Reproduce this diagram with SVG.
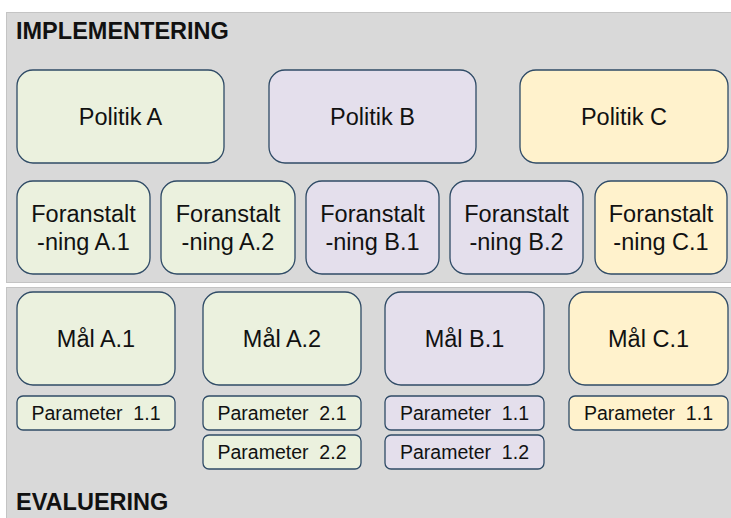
<svg xmlns="http://www.w3.org/2000/svg" width="731" height="518" viewBox="0 0 731 518">
<style>
.panel{fill:#d9d9d9;stroke:#c4c4c4;stroke-width:1}
.box{stroke:#2f4b66;stroke-width:1.3}
.g{fill:#ebf1de}.p{fill:#e4dfec}.y{fill:#fff2cc}
.t{font-family:"Liberation Sans",Arial,sans-serif;font-size:23.5px;fill:#111;text-anchor:middle}
.s{font-family:"Liberation Sans",Arial,sans-serif;font-size:19.5px;fill:#111;text-anchor:middle;white-space:pre}
.h{font-family:"Liberation Sans",Arial,sans-serif;font-size:23.5px;font-weight:bold;fill:#111}
</style>
<rect width="731" height="518" fill="#ffffff"/>
<g id="panel-implementering">
<rect class="panel" x="6.5" y="12.5" width="740" height="270"/>
<text class="h" x="16" y="39">IMPLEMENTERING</text>
</g>
<g id="panel-evaluering">
<rect class="panel" x="6.5" y="287.5" width="740" height="240"/>
<text class="h" x="16" y="510">EVALUERING</text>
</g>
<g id="politik-a"><rect class="box g" x="17" y="70" width="207" height="93" rx="16"/><text class="t" x="120.5" y="125">Politik A</text></g>
<g id="politik-b"><rect class="box p" x="269" y="70" width="207" height="93" rx="16"/><text class="t" x="372.5" y="125">Politik B</text></g>
<g id="politik-c"><rect class="box y" x="520" y="70" width="208" height="93" rx="16"/><text class="t" x="624" y="125">Politik C</text></g>
<g id="foranstaltning-a1"><rect class="box g" x="17" y="181" width="133" height="93" rx="16"/><text class="t" x="83.5" y="222">Foranstalt</text><text class="t" x="83.5" y="250">-ning A.1</text></g>
<g id="foranstaltning-a2"><rect class="box g" x="161" y="181" width="134" height="93" rx="16"/><text class="t" x="228" y="222">Foranstalt</text><text class="t" x="228" y="250">-ning A.2</text></g>
<g id="foranstaltning-b1"><rect class="box p" x="306" y="181" width="133" height="93" rx="16"/><text class="t" x="372.5" y="222">Foranstalt</text><text class="t" x="372.5" y="250">-ning B.1</text></g>
<g id="foranstaltning-b2"><rect class="box p" x="450" y="181" width="133" height="93" rx="16"/><text class="t" x="516.5" y="222">Foranstalt</text><text class="t" x="516.5" y="250">-ning B.2</text></g>
<g id="foranstaltning-c1"><rect class="box y" x="595" y="181" width="132" height="93" rx="16"/><text class="t" x="661" y="222">Foranstalt</text><text class="t" x="661" y="250">-ning C.1</text></g>
<g id="maal-a1"><rect class="box g" x="17" y="292" width="158" height="93" rx="16"/><text class="t" x="96" y="347">Mål A.1</text></g>
<g id="maal-a2"><rect class="box g" x="203" y="292" width="158" height="93" rx="16"/><text class="t" x="282" y="347">Mål A.2</text></g>
<g id="maal-b1"><rect class="box p" x="385" y="292" width="159" height="93" rx="16"/><text class="t" x="464.5" y="347">Mål B.1</text></g>
<g id="maal-c1"><rect class="box y" x="569" y="292" width="159" height="93" rx="16"/><text class="t" x="648.5" y="347">Mål C.1</text></g>
<g id="param-a1-1"><rect class="box g" x="17" y="396" width="158" height="34" rx="6"/><text class="s" x="96" y="420">Parameter  1.1</text></g>
<g id="param-a2-1"><rect class="box g" x="203" y="396" width="158" height="34" rx="6"/><text class="s" x="282" y="420">Parameter  2.1</text></g>
<g id="param-a2-2"><rect class="box g" x="203" y="435" width="158" height="34" rx="6"/><text class="s" x="282" y="459">Parameter  2.2</text></g>
<g id="param-b1-1"><rect class="box p" x="385" y="396" width="159" height="34" rx="6"/><text class="s" x="464.5" y="420">Parameter  1.1</text></g>
<g id="param-b1-2"><rect class="box p" x="385" y="435" width="159" height="34" rx="6"/><text class="s" x="464.5" y="459">Parameter  1.2</text></g>
<g id="param-c1-1"><rect class="box y" x="569" y="396" width="159" height="34" rx="6"/><text class="s" x="648.5" y="420">Parameter  1.1</text></g>
<g id="connectors"></g>
</svg>
